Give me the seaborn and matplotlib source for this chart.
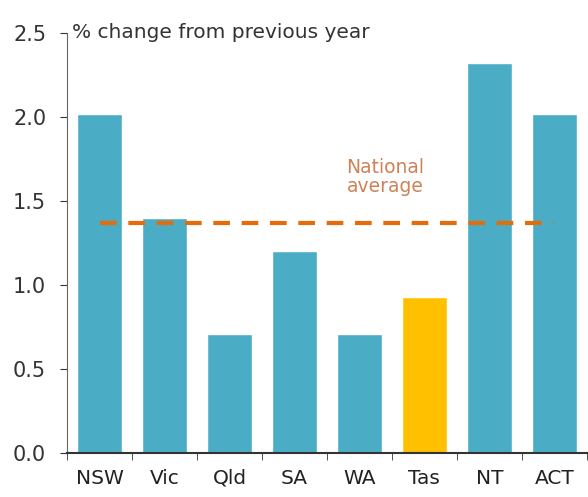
import matplotlib
matplotlib.use("Agg")
import matplotlib.pyplot as plt
import seaborn as sns
import pandas as pd
import numpy as np

# data
states = ["NSW", "Vic", "Qld", "SA", "WA", "Tas", "NT", "ACT"]
change = [2.02, 1.40, 0.71, 1.20, 0.71, 0.93, 2.32, 2.02]
national_avg = 1.37
highlight = "Tas"

blue = "#4bacc6"
yellow = "#ffc000"
orange = "#e46c0a"

df = pd.DataFrame({"state": states, "change": change})
palette = {s: (yellow if s == highlight else blue) for s in states}

sns.set_style("white")
plt.rcParams["font.family"] = ["DejaVu Sans"]

fig = plt.figure(figsize=(5.88, 4.97), dpi=100)
ax = fig.add_axes([0.114, 0.088, 0.884, 0.846])

sns.barplot(data=df, x="state", y="change", hue="state", palette=palette,
            legend=False, width=0.7, saturation=1, ax=ax)

# dashed national average line from first to last bar centre
ax.plot([0, len(states) - 1], [national_avg, national_avg], ls=(0, (4, 2.8)),
        color=orange, lw=3)
ax.text(4.4, 1.64, "National\naverage", color="#cc8358", fontsize=13.5,
        ha="center", va="center", multialignment="center", linespacing=1.0)

ax.set_ylim(0, 2.5)
ax.set_xlim(-0.5, len(states) - 0.5)
ax.set_yticks(np.arange(0, 2.51, 0.5))
ax.set_yticklabels([f"{v:.1f}" for v in np.arange(0, 2.51, 0.5)], fontsize=15,
                   color="#333333")
ax.set_xticks(range(len(states)))
ax.set_xticklabels(states, fontsize=14.5, color="#222222")
ax.tick_params(axis="x", which="major", length=0, pad=11)
ax.set_xticks(np.arange(-0.5, len(states), 1), minor=True)
ax.tick_params(axis="x", which="minor", length=5, direction="out", color="#333333")
ax.tick_params(axis="y", length=5, direction="out", color="#333333", pad=10)
ax.xaxis.set_ticks_position("bottom")
ax.yaxis.set_ticks_position("left")

for s in ["top", "right"]:
    ax.spines[s].set_visible(False)
ax.spines["left"].set_color("#666666")
ax.spines["bottom"].set_color("#333333")
ax.spines["bottom"].set_linewidth(1.5)

ax.set_xlabel("")
ax.set_ylabel("")
ax.text(0.01, 2.5, "% change from previous year", fontsize=14.5,
        ha="left", va="center", color="#333333", transform=ax.get_yaxis_transform())

fig.savefig("out.png", dpi=100)
